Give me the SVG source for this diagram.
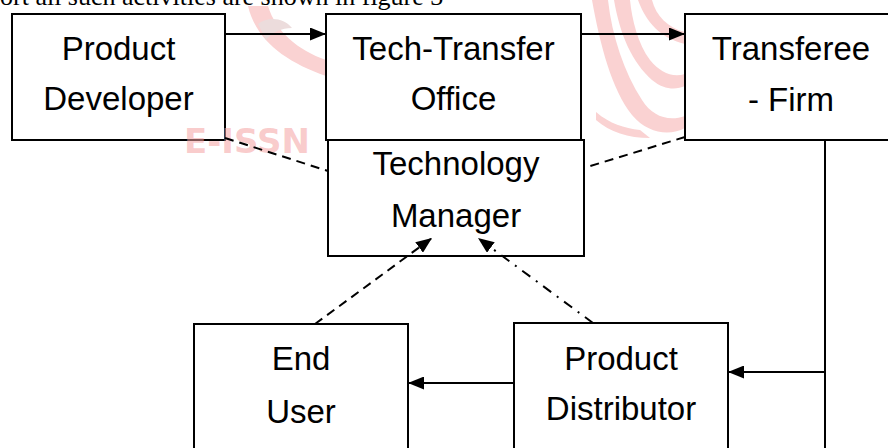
<svg xmlns="http://www.w3.org/2000/svg" width="888" height="448" viewBox="0 0 888 448">
<style>
.box{fill:#fff;stroke:#000;stroke-width:2}
.lbl{font-family:"Liberation Sans",Arial,sans-serif;font-size:33px;fill:#000;text-anchor:middle}
.ln{fill:none;stroke:#000;stroke-width:2}
.dash{stroke-dasharray:9,6}
.dashdot{stroke-dasharray:10,7,2,7}
.wm{fill:#fad2d2}
</style>
<defs>
<marker id="ah" viewBox="0 0 16 13" refX="16" refY="6.5" markerWidth="16" markerHeight="13" markerUnits="userSpaceOnUse" orient="auto">
<path d="M0,0 L16,6.5 L0,13 Z" fill="#000"/>
</marker>
</defs>
<g id="watermark">
<path class="wm" d="M248,6 C256,40 285,62 326,76 L326,60 C298,50 276,32 268,6 Z"/>
<path d="M258,24 C268,16 284,18 292,28 C282,28 272,32 266,40 Z" fill="#ecdcdc"/>
<path class="wm" d="M592,0 C600,45 612,90 632,115 C648,134 670,136 685,128 L685,116 C668,122 652,116 642,100 C624,72 612,36 608,0 Z"/>
<path class="wm" d="M614,0 C620,35 632,62 652,80 C664,90 676,90 685,86 L685,74 C672,78 660,72 650,60 C638,44 632,20 630,0 Z"/>
<path class="wm" d="M638,0 C646,22 660,38 685,44 L685,32 C668,28 656,16 652,0 Z"/>
<path class="wm" d="M596,120 C610,132 628,138 650,138 L640,130 C624,128 610,124 596,112 Z"/>
</g>
<text x="-13" y="5" font-family="'Liberation Serif','Times New Roman',serif" font-size="26" fill="#000">port all such activities are shown in figure 3</text>
<g id="product-developer">
<rect class="box" x="12" y="14" width="213" height="126"/>
<text class="lbl" x="118.5" y="60">Product</text>
<text class="lbl" x="118.5" y="110">Developer</text>
</g>
<text x="184" y="153" font-family="'DejaVu Sans',sans-serif" font-weight="bold" font-size="34" fill="#f4a0a0" fill-opacity="0.55">E-ISSN</text>
<g id="tech-manager">
<rect class="box" x="328" y="140" width="256" height="116"/>
<text class="lbl" x="456" y="175">Technology</text>
<text class="lbl" x="456" y="227">Manager</text>
</g>
<g id="tech-transfer-office">
<rect class="box" x="326" y="14" width="255" height="126"/>
<text class="lbl" x="453.5" y="60">Tech-Transfer</text>
<text class="lbl" x="453.5" y="110">Office</text>
</g>
<g id="transferee-firm">
<rect class="box" x="685" y="14" width="220" height="126"/>
<text class="lbl" x="791" y="60">Transferee</text>
<text class="lbl" x="791" y="111">- Firm</text>
</g>
<g id="end-user">
<rect class="box" x="194" y="324" width="214" height="140"/>
<text class="lbl" x="301" y="370">End</text>
<text class="lbl" x="301" y="423">User</text>
</g>
<g id="product-distributor">
<rect class="box" x="514" y="323" width="214" height="140"/>
<text class="lbl" x="621" y="370">Product</text>
<text class="lbl" x="621" y="420">Distributor</text>
</g>
<g id="connectors">
<line class="ln" x1="225" y1="34" x2="326" y2="34" marker-end="url(#ah)"/>
<line class="ln" x1="581" y1="34" x2="685" y2="34" marker-end="url(#ah)"/>
<line class="ln dash" x1="225" y1="138" x2="328" y2="171"/>
<line class="ln dash" x1="685" y1="137" x2="584" y2="168"/>
<line class="ln dash" x1="315" y1="324" x2="432" y2="238" marker-end="url(#ah)"/>
<line class="ln dashdot" x1="593" y1="323" x2="478" y2="238" marker-end="url(#ah)"/>
<line class="ln" x1="825" y1="140" x2="825" y2="448"/>
<line class="ln" x1="825" y1="372" x2="728" y2="372" marker-end="url(#ah)"/>
<line class="ln" x1="514" y1="383" x2="408" y2="383" marker-end="url(#ah)"/>
</g>
</svg>
